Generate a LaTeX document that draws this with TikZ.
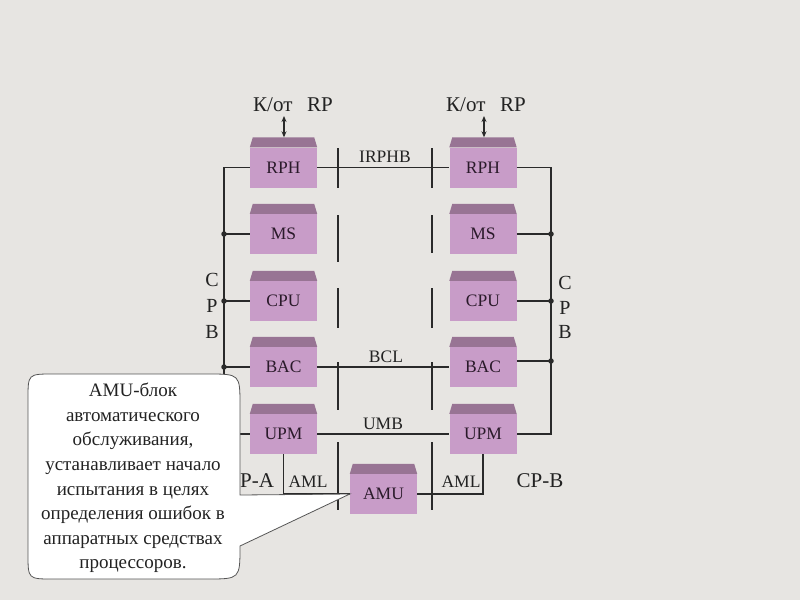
\documentclass[tikz,border=0pt]{standalone}
\usepackage{fontspec}
\setmainfont{Liberation Serif}
\usetikzlibrary{arrows.meta,calc}
\definecolor{bg}{HTML}{E7E5E2}
\definecolor{boxbody}{HTML}{C89CC8}
\definecolor{boxtop}{HTML}{987494}
\definecolor{ln}{HTML}{2A2A2A}
\definecolor{txt}{HTML}{222222}
\definecolor{unittxt}{HTML}{2A1A2A}
\newcommand\unitband[1]{\fill[boxtop] (#1.north west) -- ++(3,-10) -- ($(#1.north east)+(-3,-10)$) -- (#1.north east) -- cycle;}
\begin{document}
\begin{tikzpicture}[x=1pt,y=-1pt,
  unit/.style={draw=none, fill=boxbody, minimum width=67pt, minimum height=40pt, inner sep=0pt, font=\fontsize{17.5}{20}\selectfont, text=unittxt},
  wire/.style={draw=ln, line width=1.7pt},
  sep/.style={draw=ln, line width=1.1pt},
  dot/.style={circle, fill=ln, inner sep=0pt, minimum size=5.5pt},
  lbl/.style={font=\fontsize{17.5}{20}\selectfont, text=txt, inner sep=0pt},
  big/.style={font=\fontsize{21}{24}\selectfont, text=txt, inner sep=0pt},
  cpb/.style={font=\fontsize{20}{24}\selectfont, text=txt, inner sep=0pt},
  extarrow/.style={draw=ln, line width=1.3pt, {Stealth[length=6pt,width=5pt]}-{Stealth[length=6pt,width=5pt]}},
  callout/.style={draw=ln!80, line width=0.8pt, fill=white},
  callouttext/.style={font=\fontsize{19}{24.6}\selectfont, text=txt, align=center, inner sep=0pt}]
\useasboundingbox (0,0) rectangle (800,600);
\fill[bg] (0,0) rectangle (800,600);

% separators
\foreach \a/\b in {148/188,215/262,288/328,362/410,442/510} \draw[sep] (338,\a) -- (338,\b);
\foreach \a/\b in {148/188,215/253,288/328,362/410,442/510} \draw[sep] (432,\a) -- (432,\b);

% units
\node[unit] (LRPH) at (283.5,167.5) {RPH};
\node[unit] (LMS)  at (283.5,234) {MS};
\node[unit] (LCPU) at (283.5,301) {CPU};
\node[unit] (LBAC) at (283.5,367) {BAC};
\node[unit] (LUPM) at (283.5,434) {UPM};
\node[unit] (RRPH) at (483,167.5) {RPH};
\node[unit] (RMS)  at (483,234) {MS};
\node[unit] (RCPU) at (483,301) {CPU};
\node[unit] (RBAC) at (483,367) {BAC};
\node[unit] (RUPM) at (483,434) {UPM};
\node[unit] (AMU)  at (383.5,494) {AMU};
\foreach \n in {LRPH,LMS,LCPU,LBAC,LUPM,RRPH,RMS,RCPU,RBAC,RUPM,AMU} {\unitband{\n}}

% external labels and arrows
\node[big] (LK) at (293,105) {К/от\hspace{0.7em}RP};
\node[big] (RK) at (486,105) {К/от\hspace{0.7em}RP};
\coordinate (LKa) at (284,116);
\coordinate (RKa) at (484,116);
\draw[extarrow] (LKa) -- ([yshift=10pt]LRPH.north -| LKa);
\draw[extarrow] (RKa) -- ([yshift=10pt]RRPH.north -| RKa);

% buses between the two sides
\draw[wire] (LRPH.east) -- (RRPH.west);
\draw[wire] (LBAC.east) -- (RBAC.west);
\draw[wire] (LUPM.east) -- (RUPM.west);
\node[lbl] at (385,157) {IRPHB};
\node[lbl] at (386,357) {BCL};
\node[lbl] at (383,424) {UMB};

% left CPB bus
\coordinate (lt) at (224,167.5);
\coordinate (lb) at (224,434);
\draw[wire] (LRPH.west) -- (lt) -- (lb) -- (LUPM.west);
\draw[wire] (LMS.west) -- (LMS.west -| lt) node[dot]{};
\draw[wire] (LCPU.west) -- (LCPU.west -| lt) node[dot]{};
\draw[wire] (LBAC.west) -- (LBAC.west -| lt) node[dot]{};

% right CPB bus
\coordinate (rt) at (551,167.5);
\coordinate (rb) at (551,434);
\draw[wire] (RRPH.east) -- (rt) -- (rb) -- (RUPM.east);
\draw[wire] (RMS.east) -- (RMS.east -| rt) node[dot]{};
\draw[wire] (RCPU.east) -- (RCPU.east -| rt) node[dot]{};
\draw[wire] ([yshift=6pt]RBAC.east) -- ([yshift=6pt]RBAC.east -| rt) node[dot]{};

% CPB letters
\node[cpb] at (212,280) {C};
\node[cpb] at (212,306) {P};
\node[cpb] at (212,332) {B};
\node[cpb] at (565,283) {C};
\node[cpb] at (565,308) {P};
\node[cpb] at (565,332) {B};

% AML links
\draw[wire] (LUPM.south) |- (AMU.west);
\draw[wire] (RUPM.south) |- (AMU.east);
\node[lbl] at (308,482) {AML};
\node[lbl] at (461,482) {AML};
\node[big] at (540,481) {CP-B};
\node[big] at (250,481) {CP-A};

% callout
\draw[callout] (AMU.west) -- (240,495) -- (240,406) .. controls (240,374) .. (208,374) -- (53,374) .. controls (28,374) .. (28,399) -- (28,554) .. controls (28,579) .. (53,579) -- (207,579) .. controls (240,579) .. (240,546) -- cycle;
\node[callouttext] (CT) at (133,478) {AMU-блок\\автоматического\\обслуживания,\\устанавливает начало\\испытания в целях\\определения ошибок в\\аппаратных средствах\\процессоров.};
\end{tikzpicture}
\end{document}
